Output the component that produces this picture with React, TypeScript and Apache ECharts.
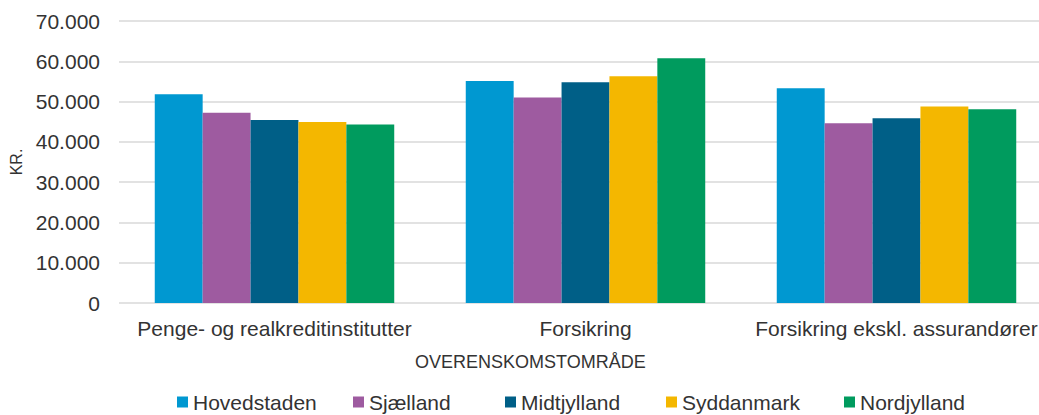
import React, { useEffect, useRef } from "react";
import * as echarts from "echarts";

const categories = ["Penge- og realkreditinstitutter", "Forsikring", "Forsikring ekskl. assurandører"];
const seriesNames = ["Hovedstaden", "Sjælland", "Midtjylland", "Syddanmark", "Nordjylland"];
const hovedstaden = [51800, 55100, 53300];
const sjaelland = [47250, 51000, 44600];
const midtjylland = [45400, 54800, 45850];
const syddanmark = [44950, 56300, 48750];
const nordjylland = [44300, 60750, 48100];
const colors = ["#0098D1", "#9E5BA0", "#005F87", "#F4B700", "#009B5E"];
const yTicks = [0, 10000, 20000, 30000, 40000, 50000, 60000, 70000];
const legendLefts = [177, 353, 505, 666, 844];

const FONT = "'Liberation Sans', Arial, sans-serif";
const TEXT = "#333333";

export default function App() {
  const ref = useRef<HTMLDivElement>(null);
  useEffect(() => {
    if (!ref.current) return;
    const chart = echarts.init(ref.current, undefined, { renderer: "svg" });
    const data = [hovedstaden, sjaelland, midtjylland, syddanmark, nordjylland];
    chart.setOption({
      animation: false,
      textStyle: { fontFamily: FONT },
      grid: { left: 119, top: 21, width: 933, height: 282, containLabel: false, outerBoundsMode: "none" },
      legend: seriesNames.map((name, i) => ({
        data: [name],
        left: legendLefts[i],
        top: 390,
        padding: 0,
        itemWidth: 11,
        itemHeight: 11,
        itemGap: 0,
        icon: "rect",
        textStyle: { fontSize: 21, color: TEXT, fontFamily: FONT, lineHeight: 24 },
      })),
      xAxis: {
        type: "category",
        data: categories,
        axisLine: { show: false },
        axisTick: { show: false },
        axisLabel: { interval: 0, fontSize: 21, color: TEXT, fontFamily: FONT, margin: 15 },
      },
      yAxis: {
        type: "value",
        min: yTicks[0],
        max: yTicks[yTicks.length - 1],
        interval: 10000,
        name: "KR.",
        nameLocation: "middle",
        nameGap: 95,
        nameTextStyle: { fontSize: 16, color: TEXT, fontFamily: FONT },
        axisLine: { show: false },
        axisTick: { show: false },
        splitLine: { lineStyle: { color: "#D9D9D9", width: 1.5 } },
        axisLabel: {
          fontSize: 21,
          color: TEXT,
          fontFamily: FONT,
          margin: 19,
          formatter: (v: number) => (v === 0 ? "0" : v.toLocaleString("de-DE")),
        },
      },
      graphic: [
        {
          type: "text",
          left: 415,
          top: 353,
          style: { text: "OVERENSKOMSTOMRÅDE", fontSize: 18, fill: TEXT, fontFamily: FONT },
        },
      ],
      series: seriesNames.map((name, i) => ({
        name,
        type: "bar",
        data: data[i],
        barGap: "0%",
        barCategoryGap: "23%",
        itemStyle: { color: colors[i] },
      })),
    });
    return () => chart.dispose();
  }, []);
  return <div ref={ref} style={{ width: 1039, height: 415, position: "absolute", left: 0, top: 0 }} />;
}
